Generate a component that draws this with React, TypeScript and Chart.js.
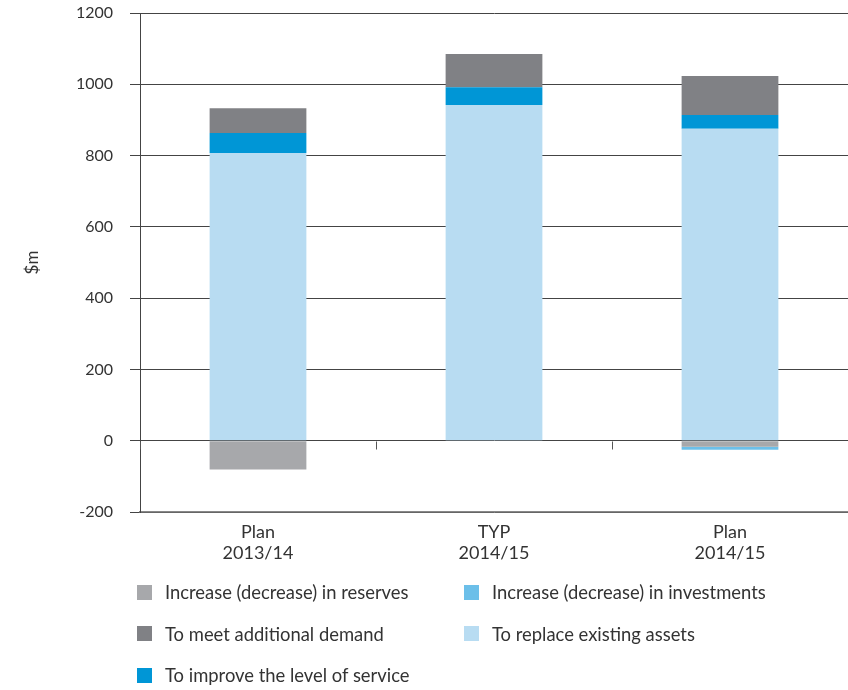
import React, { useEffect, useRef } from "react";
import { Chart, registerables } from "chart.js";

Chart.register(...registerables);

const categories: string[][] = [
  ["Plan", "2013/14"],
  ["TYP", "2014/15"],
  ["Plan", "2014/15"],
];

const replaceAssets = [807, 942, 875];
const improveService = [56, 50, 39];
const additionalDemand = [70, 93, 109];
const reserves = [-81, 0, -17];
const investments = [0, 0, -8];

const yMin = -200;
const yMax = 1200;
const yStep = 200;

const seriesLabels = {
  reserves: "Increase (decrease) in reserves",
  investments: "Increase (decrease) in investments",
  demand: "To meet additional demand",
  replace: "To replace existing assets",
  improve: "To improve the level of service",
};

const colors = {
  reserves: "#a7a8ab",
  investments: "#6cbfe9",
  demand: "#808185",
  replace: "#b8dcf2",
  improve: "#0096d6",
};

const legendOrder: (keyof typeof seriesLabels)[] = [
  "reserves",
  "investments",
  "demand",
  "replace",
  "improve",
];

const FONT = "Lato, 'Open Sans', sans-serif";
const TEXT = "#333333";

const zeroTicks = {
  id: "zeroTicks",
  afterDatasetsDraw(chart: any) {
    const { ctx } = chart;
    const x = chart.scales.x;
    const y = chart.scales.y;
    const y0 = Math.round(y.getPixelForValue(0)) + 0.5;
    ctx.save();
    ctx.strokeStyle = "#555555";
    ctx.lineWidth = 1;
    for (let i = 0; i < categories.length; i++) {
      const bx =
        i === 0
          ? x.left
          : (x.getPixelForValue(i - 1) + x.getPixelForValue(i)) / 2;
      const px = Math.round(bx) + 0.5;
      ctx.beginPath();
      ctx.moveTo(px, y0);
      ctx.lineTo(px, y0 + 8);
      ctx.stroke();
    }
    ctx.restore();
  },
};

export default function App() {
  const ref = useRef<HTMLCanvasElement | null>(null);

  useEffect(() => {
    if (!ref.current) return;
    const ds = (key: keyof typeof seriesLabels, data: number[]) => ({
      label: seriesLabels[key],
      data,
      backgroundColor: colors[key],
      borderWidth: 0,
      stack: "s",
      categoryPercentage: 1,
      barPercentage: 0.41,
    });
    const chart = new Chart(ref.current, {
      type: "bar",
      data: {
        labels: categories,
        datasets: [
          ds("replace", replaceAssets),
          ds("improve", improveService),
          ds("demand", additionalDemand),
          ds("reserves", reserves),
          ds("investments", investments),
        ],
      },
      options: {
        responsive: false,
        animation: false,
        layout: { padding: { top: 13, right: 0, bottom: 0, left: 0 } },
        plugins: {
          legend: { display: false },
          tooltip: { enabled: false },
        },
        scales: {
          x: {
            stacked: true,
            grid: { display: false },
            border: { display: true, color: "#888888", width: 1.5 },
            ticks: {
              color: TEXT,
              font: { family: FONT, size: 18, lineHeight: 1.15 },
              padding: 2,
            },
            afterFit(scale: any) {
              scale.height = 178;
              scale.paddingLeft = 0;
              scale.paddingRight = 0;
            },
          },
          y: {
            stacked: true,
            min: yMin,
            max: yMax,
            ticks: {
              stepSize: yStep,
              color: TEXT,
              font: { family: FONT, size: 16 },
              padding: 17,
              callback: (v: any) => String(v),
            },
            grid: {
              color: "#444444",
              lineWidth: 1,
              drawTicks: true,
              tickLength: 10,
            },
            border: { display: true, color: "#444444", width: 1 },
            title: {
              display: true,
              text: "$m",
              color: TEXT,
              font: { family: FONT, size: 17 },
              padding: { top: 22, bottom: 0 },
            },
            afterFit(scale: any) {
              scale.width = 140;
              scale.paddingTop = 0;
              scale.paddingBottom = 0;
            },
          },
        },
      },
      plugins: [zeroTicks],
    });
    return () => chart.destroy();
  }, []);

  return (
    <div
      style={{
        position: "absolute",
        left: 0,
        top: 0,
        width: 848,
        height: 690,
        background: "#ffffff",
        fontFamily: FONT,
      }}
    >
      <canvas ref={ref} width={848} height={690} style={{ width: 848, height: 690 }} />
      {legendOrder.map((key, i) => {
        const col = i % 2;
        const row = Math.floor(i / 2);
        return (
          <div
            key={key}
            style={{
              position: "absolute",
              left: 137 + col * 327,
              top: 582 + row * 41.5,
              display: "flex",
              alignItems: "center",
              height: 20,
              whiteSpace: "nowrap",
            }}
          >
            <span
              style={{
                display: "inline-block",
                width: 15,
                height: 15,
                background: colors[key],
                marginRight: 13,
              }}
            />
            <span style={{ fontSize: 18.4, color: TEXT }}>{seriesLabels[key]}</span>
          </div>
        );
      })}
    </div>
  );
}
